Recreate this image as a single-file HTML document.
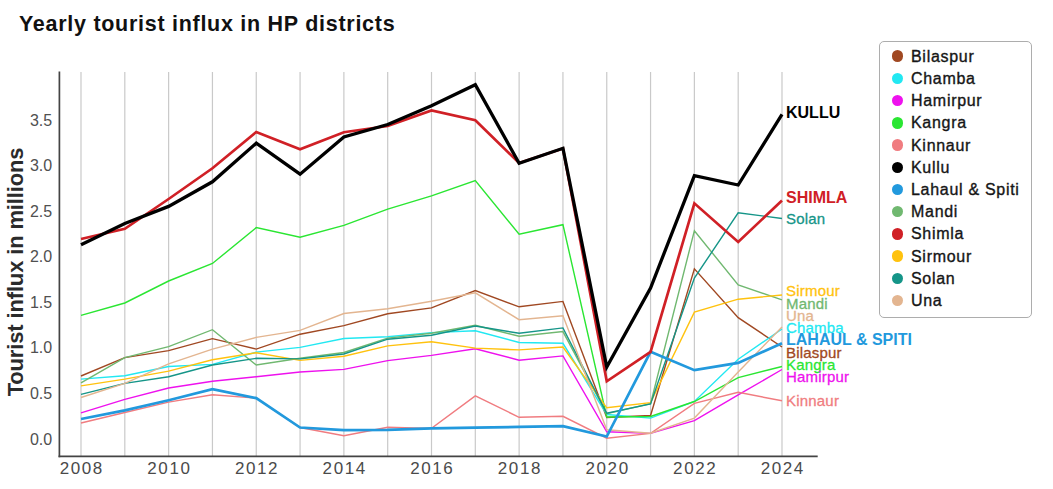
<!DOCTYPE html>
<html><head><meta charset="utf-8"><title>Yearly tourist influx in HP districts</title>
<style>
html,body{margin:0;padding:0;background:#fff;}
body{width:1053px;height:489px;position:relative;overflow:hidden;font-family:"Liberation Sans",sans-serif;}
svg{position:absolute;left:0;top:0;}
.title{position:absolute;left:19px;top:10px;font-size:21.5px;font-weight:bold;color:#111;line-height:28px;white-space:nowrap;letter-spacing:0.72px;}
.ylab{position:absolute;left:15.5px;top:272px;width:0;height:0;}
.ylab span{position:absolute;display:block;width:300px;height:26px;left:-150px;top:-13px;line-height:26px;text-align:center;font-size:22px;font-weight:bold;color:#2b2b2b;transform:rotate(-90deg);white-space:nowrap;letter-spacing:-0.15px;}
.yt{position:absolute;left:11px;width:41.2px;text-align:right;font-size:16px;line-height:16px;color:#505050;}
.xt{position:absolute;top:458.6px;width:60px;text-align:center;font-size:17px;line-height:20px;color:#4a4a4a;letter-spacing:1.6px;text-indent:1.6px;}
.legend{position:absolute;left:878.6px;top:40.5px;width:153.3px;height:277.1px;border:1.3px solid #adadad;border-radius:5px;box-sizing:border-box;background:#fff;}
.dot{position:absolute;left:891.55px;width:11.5px;height:11.5px;border-radius:50%;}
.lt{position:absolute;left:911px;font-size:16px;line-height:20px;color:#161616;white-space:nowrap;letter-spacing:0.7px;-webkit-text-stroke:0.35px #161616;}
.el{position:absolute;left:786px;font-size:15px;line-height:20px;white-space:nowrap;letter-spacing:0.2px;-webkit-text-stroke:0.3px currentColor;}
.el.b{font-weight:bold;font-size:16px;letter-spacing:0;-webkit-text-stroke:0;}
</style></head><body>
<div class="title">Yearly tourist influx in HP districts</div>
<div class="ylab"><span>Tourist influx in millions</span></div>
<svg width="1053" height="489" viewBox="0 0 1053 489">
<line x1="81.00" y1="72" x2="81.00" y2="456" stroke="#c9c9c9" stroke-width="1.2"/>
<line x1="124.81" y1="72" x2="124.81" y2="456" stroke="#c9c9c9" stroke-width="1.2"/>
<line x1="168.62" y1="72" x2="168.62" y2="456" stroke="#c9c9c9" stroke-width="1.2"/>
<line x1="212.44" y1="72" x2="212.44" y2="456" stroke="#c9c9c9" stroke-width="1.2"/>
<line x1="256.25" y1="72" x2="256.25" y2="456" stroke="#c9c9c9" stroke-width="1.2"/>
<line x1="300.06" y1="72" x2="300.06" y2="456" stroke="#c9c9c9" stroke-width="1.2"/>
<line x1="343.88" y1="72" x2="343.88" y2="456" stroke="#c9c9c9" stroke-width="1.2"/>
<line x1="387.69" y1="72" x2="387.69" y2="456" stroke="#c9c9c9" stroke-width="1.2"/>
<line x1="431.50" y1="72" x2="431.50" y2="456" stroke="#c9c9c9" stroke-width="1.2"/>
<line x1="475.31" y1="72" x2="475.31" y2="456" stroke="#c9c9c9" stroke-width="1.2"/>
<line x1="519.12" y1="72" x2="519.12" y2="456" stroke="#c9c9c9" stroke-width="1.2"/>
<line x1="562.94" y1="72" x2="562.94" y2="456" stroke="#c9c9c9" stroke-width="1.2"/>
<line x1="606.75" y1="72" x2="606.75" y2="456" stroke="#c9c9c9" stroke-width="1.2"/>
<line x1="650.56" y1="72" x2="650.56" y2="456" stroke="#c9c9c9" stroke-width="1.2"/>
<line x1="694.38" y1="72" x2="694.38" y2="456" stroke="#c9c9c9" stroke-width="1.2"/>
<line x1="738.19" y1="72" x2="738.19" y2="456" stroke="#c9c9c9" stroke-width="1.2"/>
<line x1="782.00" y1="72" x2="782.00" y2="456" stroke="#c9c9c9" stroke-width="1.2"/>
<polyline points="81.00,376.0 124.81,357.6 168.62,350.6 212.44,338.6 256.25,349.1 300.06,334.2 343.88,325.6 387.69,313.8 431.50,307.9 475.31,290.6 519.12,306.8 562.94,301.4 606.75,417.5 650.56,415.5 694.38,268.9 738.19,317.6 782.00,347.0" fill="none" stroke="#A04822" stroke-width="1.4" stroke-linejoin="miter" stroke-linecap="butt"/>
<polyline points="81.00,379.1 124.81,375.7 168.62,366.5 212.44,364.4 256.25,352.1 300.06,347.4 343.88,338.5 387.69,336.7 431.50,332.6 475.31,330.8 519.12,342.5 562.94,343.3 606.75,414.5 650.56,418.1 694.38,401.5 738.19,359.2 782.00,329.0" fill="none" stroke="#22E8F2" stroke-width="1.4" stroke-linejoin="miter" stroke-linecap="butt"/>
<polyline points="81.00,412.8 124.81,399.3 168.62,388.0 212.44,381.3 256.25,376.7 300.06,372.0 343.88,369.4 387.69,360.6 431.50,355.4 475.31,348.8 519.12,360.2 562.94,355.9 606.75,431.8 650.56,433.4 694.38,420.7 738.19,394.9 782.00,369.5" fill="none" stroke="#EE11EE" stroke-width="1.4" stroke-linejoin="miter" stroke-linecap="butt"/>
<polyline points="81.00,315.3 124.81,303.0 168.62,281.0 212.44,263.5 256.25,227.6 300.06,237.2 343.88,225.4 387.69,209.2 431.50,195.9 475.31,180.5 519.12,234.2 562.94,224.7 606.75,417.0 650.56,416.5 694.38,401.5 738.19,377.6 782.00,366.5" fill="none" stroke="#2AE632" stroke-width="1.4" stroke-linejoin="miter" stroke-linecap="butt"/>
<polyline points="81.00,423.0 124.81,412.5 168.62,402.1 212.44,394.7 256.25,398.1 300.06,427.5 343.88,435.7 387.69,427.2 431.50,428.4 475.31,395.9 519.12,417.3 562.94,416.3 606.75,438.2 650.56,433.4 694.38,403.4 738.19,392.3 782.00,400.8" fill="none" stroke="#F07C80" stroke-width="1.4" stroke-linejoin="miter" stroke-linecap="butt"/>
<polyline points="81.00,382.8 124.81,357.6 168.62,346.6 212.44,329.7 256.25,365.0 300.06,358.3 343.88,352.5 387.69,338.1 431.50,333.3 475.31,325.2 519.12,336.3 562.94,331.6 606.75,413.6 650.56,403.6 694.38,230.7 738.19,285.0 782.00,299.8" fill="none" stroke="#70B870" stroke-width="1.4" stroke-linejoin="miter" stroke-linecap="butt"/>
<polyline points="81.00,385.9 124.81,379.1 168.62,371.1 212.44,359.8 256.25,352.7 300.06,360.4 343.88,356.2 387.69,345.9 431.50,341.8 475.31,348.1 519.12,349.9 562.94,347.0 606.75,407.8 650.56,402.6 694.38,312.2 738.19,299.2 782.00,295.0" fill="none" stroke="#FFC20E" stroke-width="1.4" stroke-linejoin="miter" stroke-linecap="butt"/>
<polyline points="81.00,394.4 124.81,383.4 168.62,376.7 212.44,365.0 256.25,358.3 300.06,358.9 343.88,354.0 387.69,339.2 431.50,335.2 475.31,326.0 519.12,333.3 562.94,327.9 606.75,413.2 650.56,403.9 694.38,278.1 738.19,212.8 782.00,218.5" fill="none" stroke="#159588" stroke-width="1.4" stroke-linejoin="miter" stroke-linecap="butt"/>
<polyline points="81.00,397.5 124.81,383.4 168.62,363.8 212.44,349.1 256.25,337.4 300.06,330.4 343.88,313.5 387.69,308.7 431.50,301.3 475.31,292.8 519.12,319.7 562.94,315.7 606.75,429.8 650.56,433.2 694.38,418.1 738.19,372.0 782.00,327.1" fill="none" stroke="#E3B590" stroke-width="1.4" stroke-linejoin="miter" stroke-linecap="butt"/>
<polyline points="81.00,419.0 124.81,410.4 168.62,400.3 212.44,389.2 256.25,398.1 300.06,427.5 343.88,430.2 387.69,429.8 431.50,428.4 475.31,427.6 519.12,426.9 562.94,426.2 606.75,436.5 650.56,351.8 694.38,370.2 738.19,362.9 782.00,343.3" fill="none" stroke="#2299DD" stroke-width="2.7" stroke-linejoin="miter" stroke-linecap="butt"/>
<polyline points="81.00,239.0 124.81,228.8 168.62,199.0 212.44,168.3 256.25,132.0 300.06,149.2 343.88,132.2 387.69,126.0 431.50,110.5 475.31,120.3 519.12,163.0 562.94,148.4 606.75,381.3 650.56,351.8 694.38,203.3 738.19,241.9 782.00,200.5" fill="none" stroke="#D02026" stroke-width="2.7" stroke-linejoin="miter" stroke-linecap="butt"/>
<polyline points="81.00,244.8 124.81,223.5 168.62,206.4 212.44,181.8 256.25,143.2 300.06,174.2 343.88,137.0 387.69,124.5 431.50,105.7 475.31,84.7 519.12,163.2 562.94,148.3 606.75,367.0 650.56,288.0 694.38,175.6 738.19,185.0 782.00,114.3" fill="none" stroke="#000000" stroke-width="3.3" stroke-linejoin="miter" stroke-linecap="butt"/>
<line x1="59.4" y1="71.5" x2="59.4" y2="457.2" stroke="#444" stroke-width="1.7"/>
<line x1="58.55" y1="456.3" x2="817.7" y2="456.3" stroke="#444" stroke-width="1.7"/>
</svg>
<div class="yt" style="top:431.5px">0.0</div>
<div class="yt" style="top:385.9px">0.5</div>
<div class="yt" style="top:340.4px">1.0</div>
<div class="yt" style="top:294.9px">1.5</div>
<div class="yt" style="top:249.3px">2.0</div>
<div class="yt" style="top:203.8px">2.5</div>
<div class="yt" style="top:158.2px">3.0</div>
<div class="yt" style="top:112.7px">3.5</div>
<div class="xt" style="left:51.0px">2008</div>
<div class="xt" style="left:138.6px">2010</div>
<div class="xt" style="left:226.2px">2012</div>
<div class="xt" style="left:313.9px">2014</div>
<div class="xt" style="left:401.5px">2016</div>
<div class="xt" style="left:489.1px">2018</div>
<div class="xt" style="left:576.8px">2020</div>
<div class="xt" style="left:664.4px">2022</div>
<div class="xt" style="left:752.0px">2024</div>
<div class="legend"></div>
<div class="dot" style="top:50.45px;background:#A04822"></div><div class="lt" style="top:46.7px">Bilaspur</div>
<div class="dot" style="top:72.66px;background:#22E8F2"></div><div class="lt" style="top:68.9px">Chamba</div>
<div class="dot" style="top:94.87px;background:#EE11EE"></div><div class="lt" style="top:91.1px">Hamirpur</div>
<div class="dot" style="top:117.08px;background:#2AE632"></div><div class="lt" style="top:113.3px">Kangra</div>
<div class="dot" style="top:139.29px;background:#F07C80"></div><div class="lt" style="top:135.5px">Kinnaur</div>
<div class="dot" style="top:161.50px;background:#000000"></div><div class="lt" style="top:157.8px">Kullu</div>
<div class="dot" style="top:183.71px;background:#2299DD"></div><div class="lt" style="top:180.0px">Lahaul &amp; Spiti</div>
<div class="dot" style="top:205.92px;background:#70B870"></div><div class="lt" style="top:202.2px">Mandi</div>
<div class="dot" style="top:228.13px;background:#D02026"></div><div class="lt" style="top:224.4px">Shimla</div>
<div class="dot" style="top:250.34px;background:#FFC20E"></div><div class="lt" style="top:246.6px">Sirmour</div>
<div class="dot" style="top:272.55px;background:#159588"></div><div class="lt" style="top:268.8px">Solan</div>
<div class="dot" style="top:294.76px;background:#E3B590"></div><div class="lt" style="top:291.0px">Una</div>
<div class="el b" style="top:102.8px;color:#000000">KULLU</div>
<div class="el b" style="top:188.0px;color:#D02026">SHIMLA</div>
<div class="el" style="top:208.5px;color:#159588">Solan</div>
<div class="el" style="top:280.7px;color:#FFC20E">Sirmour</div>
<div class="el" style="top:293.6px;color:#70B870">Mandi</div>
<div class="el" style="top:305.6px;color:#E3B590">Una</div>
<div class="el" style="top:317.7px;color:#22E8F2">Chamba</div>
<div class="el b" style="top:330.0px;color:#2299DD">LAHAUL &amp; SPITI</div>
<div class="el" style="top:343.1px;color:#A04822">Bilaspur</div>
<div class="el" style="top:355.2px;color:#2AE632">Kangra</div>
<div class="el" style="top:367.2px;color:#EE11EE">Hamirpur</div>
<div class="el" style="top:390.9px;color:#F07C80">Kinnaur</div>
</body></html>
